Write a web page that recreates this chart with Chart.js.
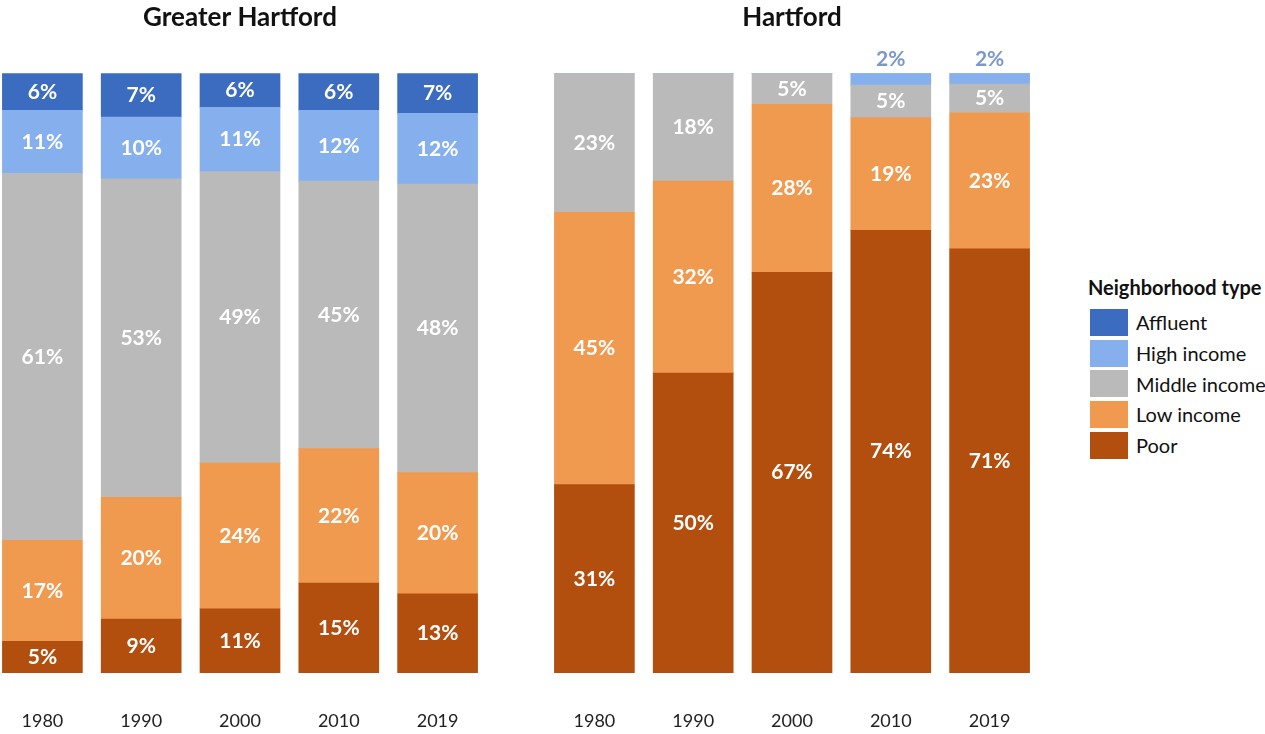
<!DOCTYPE html>
<html lang="en">
<head>
<meta charset="UTF-8">
<title>Neighborhood types: Greater Hartford and Hartford</title>
<script src="https://cdn.jsdelivr.net/npm/chart.js"></script>
<style>
  body { margin: 0; width: 1265px; height: 734px; overflow: hidden; background: #fff; position: relative; font-family: Lato, sans-serif; }
  canvas { position: absolute; top: 0; }
  #legend { position: absolute; left: 1088px; top: 275px; white-space: nowrap; color: #111; }
  #legend .ttl { font-weight: bold; font-size: 20px; height: 32px; }
  #legend .row { display: flex; align-items: center; height: 30.7px; font-size: 20px; }
  #legend .sw { width: 38px; height: 27px; margin: 0 8px 0 2px; }
</style>
</head>
<body>
<canvas id="ghChart" width="494" height="734" style="left:-7px"></canvas>
<canvas id="hChart" width="494" height="734" style="left:545px"></canvas>
<div id="legend"></div>

<script>
    const years = ['1980', '1990', '2000', '2010', '2019'];
    const types = ['Poor', 'Low income', 'Middle income', 'High income', 'Affluent'];
    const colors = ['#b24f0e', '#f09a50', '#bababa', '#85b0ed', '#3b6cc0'];

    // Greater Hartford, share of neighborhoods (%)
    const ghPoor     = [5.3, 9, 10.7, 15, 13.2];
    const ghLow      = [16.8, 20.3, 24.3, 22.4, 20.2];
    const ghMiddle   = [61.2, 53.1, 48.6, 44.6, 48.1];
    const ghHigh     = [10.5, 10.3, 10.7, 11.8, 11.8];
    const ghAffluent = [6.2, 7.3, 5.7, 6.2, 6.7];

    // Hartford city
    const hPoor     = [31.4, 50, 66.8, 73.8, 70.7];
    const hLow      = [45.4, 32, 28, 18.8, 22.7];
    const hMiddle   = [23.2, 18, 5.2, 5.4, 4.8];
    const hHigh     = [0, 0, 0, 2, 1.8];
    const hAffluent = [0, 0, 0, 0, 0];

    const segmentLabels = {
        id: 'segmentLabels',
        afterDatasetsDraw(chart) {
            const ctx = chart.ctx;
            ctx.save();
            ctx.font = 'bold 21px Lato';
            ctx.textAlign = 'center';
            ctx.textBaseline = 'middle';
            chart.data.datasets.forEach((ds, di) => {
                chart.getDatasetMeta(di).data.forEach((bar, i) => {
                    const v = ds.data[i];
                    if (!v) return;
                    const txt = Math.round(v) + '%';
                    if (v < 3) {
                        // too thin, put it above the stack
                        ctx.fillStyle = '#7b98cc';
                        ctx.fillText(txt, bar.x, bar.y - 14);
                    } else {
                        ctx.fillStyle = '#fff';
                        ctx.fillText(txt, bar.x, (bar.y + bar.base) / 2);
                    }
                });
            });
            // year labels under the bars, placed by the x scale
            const xs = chart.scales.x;
            ctx.font = '18px Lato';
            ctx.fillStyle = '#222';
            years.forEach((y, i) => ctx.fillText(y, xs.getPixelForValue(i), 721));
            ctx.restore();
        }
    };

    function makeChart(id, title, series) {
        return new Chart(document.getElementById(id), {
            type: 'bar',
            data: {
                labels: years,
                datasets: series.map((vals, i) => ({
                    label: types[i],
                    data: vals,
                    backgroundColor: colors[i],
                    borderWidth: 0,
                    barThickness: 80
                }))
            },
            options: {
                responsive: false,
                animation: false,
                layout: { padding: 0 },
                plugins: {
                    legend: { display: false },
                    tooltip: { enabled: false },
                    title: {
                        display: true,
                        text: title,
                        color: '#111',
                        font: { family: 'Lato', size: 26, weight: 'bold' },
                        padding: { top: 2, bottom: 40 }
                    }
                },
                scales: {
                    x: {
                        stacked: true,
                        grid: { display: false, drawTicks: false },
                        border: { display: false },
                        ticks: { display: false },
                        afterFit(scale) { scale.height = 61; }
                    },
                    y: { stacked: true, display: false, min: 0, max: 100 }
                }
            },
            plugins: [segmentLabels]
        });
    }

    makeChart('ghChart', 'Greater Hartford', [ghPoor, ghLow, ghMiddle, ghHigh, ghAffluent]);
    makeChart('hChart', 'Hartford', [hPoor, hLow, hMiddle, hHigh, hAffluent]);

    // legend, top item first
    const legend = document.getElementById('legend');
    let html = '<div class="ttl">Neighborhood type</div>';
    for (let i = types.length - 1; i >= 0; i--) {
        html += `<div class="row"><span class="sw" style="background:${colors[i]}"></span>${types[i]}</div>`;
    }
    legend.innerHTML = html;
</script>
</body>
</html>
